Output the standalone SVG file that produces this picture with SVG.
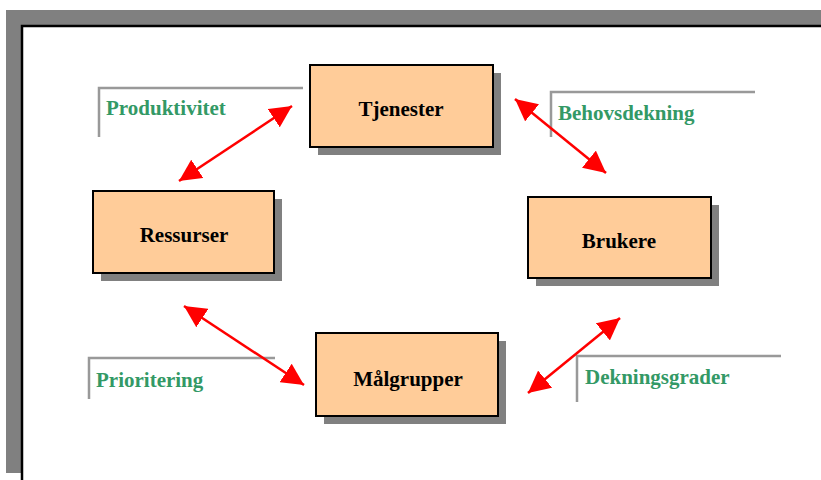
<svg xmlns="http://www.w3.org/2000/svg" width="821" height="480" viewBox="0 0 821 480">
<style>
.box{fill:#ffcc99;stroke:#000;stroke-width:2}
.shadow{fill:#808080}
.ntext{font-family:"Liberation Serif",serif;font-weight:bold;font-size:21px;fill:#000;text-anchor:middle}
.ltext{font-family:"Liberation Serif",serif;font-weight:bold;font-size:21px;fill:#339966}
.lline{fill:none;stroke:#999999;stroke-width:2.5}
.conn{stroke:#ff0000;stroke-width:2.5;fill:none;marker-start:url(#ah);marker-end:url(#ah)}
</style>
<defs>
<marker id="ah" markerUnits="userSpaceOnUse" markerWidth="22" markerHeight="22" viewBox="0 0 20 20" refX="20" refY="10" orient="auto-start-reverse">
<path d="M0,0 L20,10 L0,20 Z" fill="#ff0000"/>
</marker>
</defs>
<rect width="821" height="480" fill="#fff"/>
<g id="frame">
<rect x="6" y="10" width="815" height="15" fill="#808080"/>
<rect x="6" y="10" width="15" height="463" fill="#808080"/>
<path d="M22,480 V26 H821" fill="none" stroke="#000" stroke-width="2.5"/>
</g>
<g id="labels">
<g id="lbl-produktivitet"><path class="lline" d="M99,137 V88 H303"/><text class="ltext" x="106" y="115">Produktivitet</text></g>
<g id="lbl-behovsdekning"><path class="lline" d="M551,137 V92 H755"/><text class="ltext" x="558" y="120">Behovsdekning</text></g>
<g id="lbl-prioritering"><path class="lline" d="M89,399 V358 H275"/><text class="ltext" x="96" y="387">Prioritering</text></g>
<g id="lbl-dekningsgrader"><path class="lline" d="M577,402 V356 H781"/><text class="ltext" x="585" y="384">Dekningsgrader</text></g>
</g>
<g id="connectors">
<line class="conn" x1="179" y1="181" x2="292" y2="106"/>
<line class="conn" x1="515" y1="99" x2="606" y2="173"/>
<line class="conn" x1="184" y1="306" x2="304" y2="385"/>
<line class="conn" x1="620" y1="318" x2="528" y2="393"/>
</g>
<g id="node-tjenester">
<rect class="shadow" x="318" y="73" width="183" height="82"/>
<rect class="box" x="310" y="65" width="183" height="82"/>
<text class="ntext" x="401" y="116">Tjenester</text>
</g>
<g id="node-ressurser">
<rect class="shadow" x="101" y="199" width="181" height="82"/>
<rect class="box" x="93" y="191" width="181" height="82"/>
<text class="ntext" x="184" y="242">Ressurser</text>
</g>
<g id="node-brukere">
<rect class="shadow" x="536" y="205" width="183" height="81"/>
<rect class="box" x="528" y="197" width="183" height="81"/>
<text class="ntext" x="619" y="248">Brukere</text>
</g>
<g id="node-malgrupper">
<rect class="shadow" x="324" y="341" width="182" height="83"/>
<rect class="box" x="316" y="333" width="182" height="83"/>
<text class="ntext" x="408" y="386">Målgrupper</text>
</g>
</svg>
